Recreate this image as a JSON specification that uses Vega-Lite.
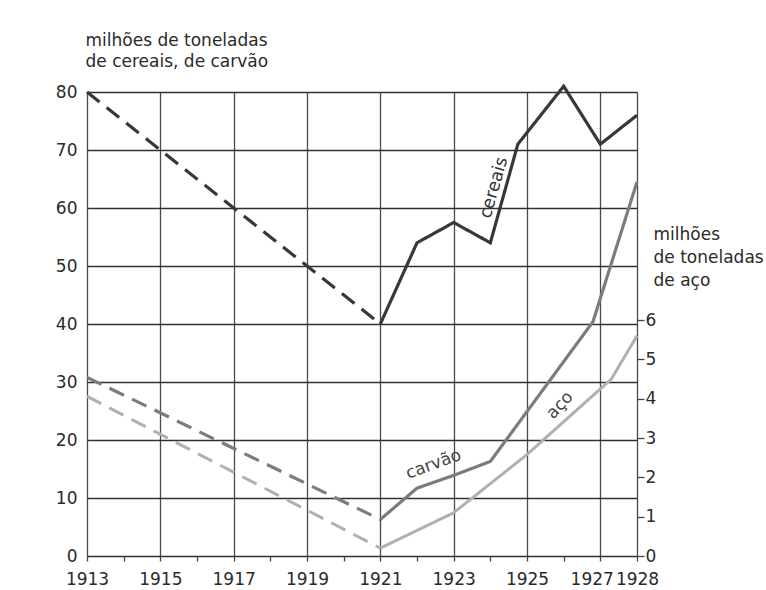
{
  "$schema": "https://vega.github.io/schema/vega-lite/v6.json",
  "width": 550,
  "height": 464,
  "autosize": {"type": "none"},
  "padding": {"left": 87, "top": 92, "right": 129, "bottom": 34},
  "background": "#ffffff",
  "config": {
    "font": "DejaVu Sans",
    "view": {"stroke": null},
    "axis": {"labelColor": "#2a2a2a", "titleColor": "#2a2a2a", "labelFontSize": 17, "titleFontSize": 17, "titleFontWeight": "normal"}
  },
  "datasets": {
    "left": [
      {"series": "cereais", "part": "projetado", "year": 1913, "value": 80},
      {"series": "cereais", "part": "projetado", "year": 1921, "value": 40},
      {"series": "cereais", "part": "real", "year": 1921, "value": 40},
      {"series": "cereais", "part": "real", "year": 1922, "value": 54},
      {"series": "cereais", "part": "real", "year": 1923, "value": 57.5},
      {"series": "cereais", "part": "real", "year": 1924, "value": 54},
      {"series": "cereais", "part": "real", "year": 1924.75, "value": 71},
      {"series": "cereais", "part": "real", "year": 1926, "value": 81},
      {"series": "cereais", "part": "real", "year": 1927, "value": 71},
      {"series": "cereais", "part": "real", "year": 1928, "value": 76},
      {"series": "carvão", "part": "projetado", "year": 1913, "value": 30.8},
      {"series": "carvão", "part": "projetado", "year": 1921, "value": 6.3},
      {"series": "carvão", "part": "real", "year": 1921, "value": 6.3},
      {"series": "carvão", "part": "real", "year": 1922, "value": 11.7},
      {"series": "carvão", "part": "real", "year": 1923, "value": 13.9},
      {"series": "carvão", "part": "real", "year": 1924, "value": 16.3},
      {"series": "carvão", "part": "real", "year": 1926.8, "value": 40.4},
      {"series": "carvão", "part": "real", "year": 1928, "value": 64.5}
    ],
    "steel": [
      {"series": "aço", "part": "projetado", "year": 1913, "value": 4.06},
      {"series": "aço", "part": "projetado", "year": 1921, "value": 0.2},
      {"series": "aço", "part": "real", "year": 1921, "value": 0.2},
      {"series": "aço", "part": "real", "year": 1923, "value": 1.1},
      {"series": "aço", "part": "real", "year": 1925, "value": 2.58},
      {"series": "aço", "part": "real", "year": 1927.3, "value": 4.5},
      {"series": "aço", "part": "real", "year": 1928, "value": 5.6}
    ],
    "labels": [
      {"label": "cereais", "year": 1924.1, "value": 63.5},
      {"label": "carvão", "year": 1922.45, "value": 15.8},
      {"label": "aço", "year": 1925.9, "value": 26}
    ]
  },
  "layer": [
    {
      "layer": [
        {
          "data": {"name": "left"},
          "mark": {"type": "line", "strokeWidth": 3.2},
          "encoding": {
            "x": {
              "field": "year", "type": "quantitative",
              "scale": {"domain": [1913, 1928], "nice": false, "zero": false},
              "axis": {
                "orient": "bottom",
                "values": [1913, 1915, 1917, 1919, 1921, 1923, 1925, 1927, 1928],
                "format": "d", "title": null, "grid": true, "gridColor": "#4a4a4a", "gridWidth": 1.3,
                "ticks": false, "domain": false, "labelPadding": 15, "labelOverlap": false, "labelFlush": false,
                "labelExpr": "datum.value == 1927 ? '' : datum.label"
              }
            },
            "y": {
              "field": "value", "type": "quantitative",
              "scale": {"domain": [0, 80], "nice": false},
              "axis": {
                "orient": "left",
                "values": [0, 10, 20, 30, 40, 50, 60, 70, 80],
                "grid": true, "gridColor": "#303030", "gridWidth": 1.3,
                "ticks": false, "domain": false, "labelPadding": 10,
                "title": ["milhões de toneladas", "de cereais, de carvão"],
                "titleAngle": 0, "titleAlign": "left", "titleBaseline": "top",
                "titleX": -2, "titleY": -60, "titleLineHeight": 21
              }
            },
            "color": {
              "field": "series", "type": "nominal",
              "scale": {"domain": ["cereais", "carvão", "aço"], "range": ["#383838", "#7c7c7c", "#b0b0b0"]},
              "legend": null
            },
            "strokeDash": {
              "field": "part", "type": "nominal",
              "scale": {"domain": ["projetado", "real"], "range": [[16, 9], [1, 0]]},
              "legend": null
            }
          }
        },
        {
          "data": {"name": "labels"},
          "transform": [{"filter": "datum.label == 'cereais'"}],
          "mark": {"type": "text", "angle": -74, "fontSize": 17.5, "color": "#333333", "align": "center", "baseline": "middle"},
          "encoding": {
            "x": {"field": "year", "type": "quantitative"},
            "y": {"field": "value", "type": "quantitative"},
            "text": {"field": "label"}
          }
        },
        {
          "data": {"name": "labels"},
          "transform": [{"filter": "datum.label == 'carvão'"}],
          "mark": {"type": "text", "angle": -20, "fontSize": 17, "color": "#444444", "align": "center", "baseline": "middle"},
          "encoding": {
            "x": {"field": "year", "type": "quantitative"},
            "y": {"field": "value", "type": "quantitative"},
            "text": {"field": "label"}
          }
        },
        {
          "data": {"name": "labels"},
          "transform": [{"filter": "datum.label == 'aço'"}],
          "mark": {"type": "text", "angle": -47, "fontSize": 17, "color": "#444444", "align": "center", "baseline": "middle"},
          "encoding": {
            "x": {"field": "year", "type": "quantitative"},
            "y": {"field": "value", "type": "quantitative"},
            "text": {"field": "label"}
          }
        }
      ]
    },
    {
      "data": {"name": "steel"},
      "mark": {"type": "line", "strokeWidth": 3},
      "encoding": {
        "x": {
          "field": "year", "type": "quantitative",
          "axis": {
            "orient": "bottom",
            "values": [1913, 1914, 1915, 1916, 1917, 1918, 1919, 1920, 1921, 1922, 1923, 1924, 1925, 1926, 1927, 1928],
            "labels": true, "labelExpr": "datum.value == 1927 ? '1927' : ''",
            "labelAlign": "right", "labelOffset": 13,
            "labelPadding": 10, "labelOverlap": false, "labelFlush": false,
            "grid": false, "domain": false, "ticks": true, "tickSize": 5,
            "tickColor": "#444444", "tickWidth": 1.3, "title": null
          }
        },
        "y": {
          "field": "value", "type": "quantitative",
          "scale": {"domain": [0, 11.8], "nice": false},
          "axis": {
            "orient": "right", "values": [0, 1, 2, 3, 4, 5, 6], "grid": false, "domain": false,
            "tickSize": 7, "tickColor": "#444444", "tickWidth": 1.3, "labelPadding": 1,
            "title": ["milhões", "de toneladas", "de aço"],
            "titleAngle": 0, "titleAlign": "left", "titleBaseline": "top",
            "titleX": 16, "titleY": 134, "titleLineHeight": 23
          }
        },
        "color": {
          "field": "series", "type": "nominal",
          "scale": {"domain": ["cereais", "carvão", "aço"], "range": ["#383838", "#7c7c7c", "#b0b0b0"]},
          "legend": null
        },
        "strokeDash": {
          "field": "part", "type": "nominal",
          "scale": {"domain": ["projetado", "real"], "range": [[16, 9], [1, 0]]},
          "legend": null
        }
      }
    }
  ],
  "resolve": {"scale": {"y": "independent"}, "axis": {"x": "independent"}}
}
